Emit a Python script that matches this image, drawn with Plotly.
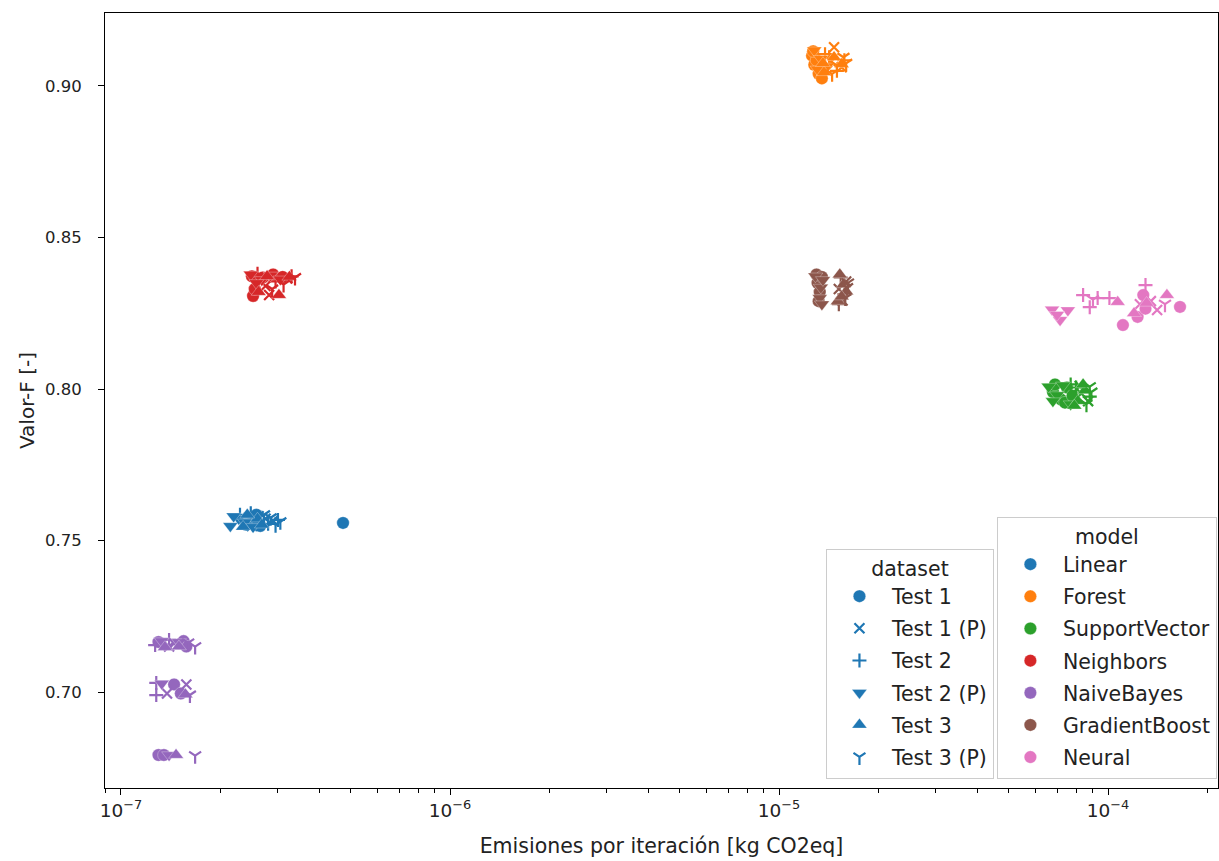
import plotly.graph_objects as go

# ---- data: emissions per iteration [kg CO2eq] and F-score, per model ----
DATASETS = ["Test 1", "Test 1 (P)", "Test 2", "Test 2 (P)", "Test 3", "Test 3 (P)"]
MODELS = ["Linear", "Forest", "SupportVector", "Neighbors", "NaiveBayes", "GradientBoost", "Neural"]
MODEL_COLORS = ["#1f77b4", "#ff7f0e", "#2ca02c", "#d62728", "#9467bd", "#8c564b", "#e377c2"]

LINEAR_SET = ["Test 1"] * 6 + ["Test 1 (P)"] * 4 + ["Test 2"] * 4 + ["Test 2 (P)"] * 5 + ["Test 3"] * 4 + ["Test 3 (P)"] * 4
LINEAR_X = [2.45e-7, 2.55e-7, 2.65e-7, 2.40e-7, 2.58e-7, 4.73e-7,
            2.75e-7, 2.90e-7, 2.62e-7, 2.50e-7,
            2.30e-7, 3.00e-7, 2.80e-7, 2.48e-7,
            2.15e-7, 2.28e-7, 2.38e-7, 2.52e-7, 2.20e-7,
            2.35e-7, 2.60e-7, 2.68e-7, 2.42e-7,
            2.85e-7, 3.05e-7, 2.72e-7, 2.95e-7]
LINEAR_Y = [0.7575, 0.7560, 0.7548, 0.7552, 0.7585, 0.7558,
            0.7572, 0.7565, 0.7580, 0.7548,
            0.7585, 0.7568, 0.7555, 0.7590,
            0.7548, 0.7572, 0.7560, 0.7545, 0.7580,
            0.7545, 0.7572, 0.7552, 0.7585,
            0.7575, 0.7562, 0.7585, 0.7552]

FOREST_SET = ["Test 1"] * 6 + ["Test 1 (P)"] * 4 + ["Test 2"] * 4 + ["Test 2 (P)"] * 4 + ["Test 3"] * 4 + ["Test 3 (P)"] * 4
FOREST_X = [1.26e-5, 1.28e-5, 1.32e-5, 1.30e-5, 1.35e-5, 1.27e-5,
            1.47e-5, 1.44e-5, 1.55e-5, 1.40e-5,
            1.38e-5, 1.58e-5, 1.50e-5, 1.42e-5,
            1.28e-5, 1.34e-5, 1.40e-5, 1.31e-5,
            1.47e-5, 1.37e-5, 1.55e-5, 1.36e-5,
            1.60e-5, 1.50e-5, 1.45e-5, 1.57e-5]
FOREST_Y = [0.9100, 0.9070, 0.9040, 0.9085, 0.9025, 0.9115,
            0.9128, 0.9080, 0.9062, 0.9050,
            0.9105, 0.9085, 0.9050, 0.9095,
            0.9118, 0.9090, 0.9065, 0.9055,
            0.9095, 0.9045, 0.9072, 0.9075,
            0.9075, 0.9068, 0.9040, 0.9095]

SVC_SET = ["Test 1"] * 6 + ["Test 1 (P)"] * 3 + ["Test 2"] * 3 + ["Test 2 (P)"] * 5 + ["Test 3"] * 4 + ["Test 3 (P)"] * 3
SVC_X = [6.8e-5, 7.2e-5, 7.5e-5, 7.4e-5, 6.9e-5, 7.8e-5,
         8.3e-5, 8.7e-5, 8.2e-5,
         8.0e-5, 8.8e-5, 7.7e-5,
         6.6e-5, 7.0e-5, 7.7e-5, 6.8e-5, 7.3e-5,
         8.1e-5, 8.5e-5, 7.9e-5, 8.4e-5,
         8.9e-5, 8.6e-5, 8.8e-5]
SVC_Y = [0.7990, 0.7965, 0.8005, 0.7955, 0.8015, 0.7978,
         0.7985, 0.7960, 0.8010,
         0.8005, 0.7975, 0.8015,
         0.8008, 0.7980, 0.7950, 0.7960, 0.8012,
         0.7960, 0.7995, 0.7945, 0.8015,
         0.7990, 0.7950, 0.8008]

NEIGHBORS_SET = ["Test 1"] * 6 + ["Test 1 (P)"] * 3 + ["Test 2"] * 3 + ["Test 2 (P)"] * 5 + ["Test 3"] * 4 + ["Test 3 (P)"] * 3
NEIGHBORS_X = [2.50e-7, 2.90e-7, 2.52e-7, 3.10e-7, 2.70e-7, 2.55e-7,
               2.82e-7, 2.75e-7, 3.20e-7,
               2.60e-7, 3.30e-7, 2.95e-7,
               2.48e-7, 2.68e-7, 2.58e-7, 2.85e-7, 3.05e-7,
               2.62e-7, 3.02e-7, 3.25e-7, 2.78e-7,
               3.38e-7, 3.12e-7, 2.88e-7]
NEIGHBORS_Y = [0.8372, 0.8378, 0.8307, 0.8370, 0.8368, 0.8330,
               0.8310, 0.8340, 0.8365,
               0.8380, 0.8372, 0.8355,
               0.8378, 0.8360, 0.8350, 0.8375, 0.8362,
               0.8320, 0.8310, 0.8370, 0.8372,
               0.8368, 0.8345, 0.8330]

BAYES_SET = ["Test 1"] * 7 + ["Test 1 (P)"] * 4 + ["Test 2"] * 4 + ["Test 2 (P)"] * 4 + ["Test 3"] * 4 + ["Test 3 (P)"] * 4
BAYES_X = [1.30e-7, 1.55e-7, 1.58e-7, 1.45e-7, 1.52e-7, 1.30e-7, 1.35e-7,
           1.45e-7, 1.58e-7, 1.40e-7, 1.38e-7,
           1.27e-7, 1.28e-7, 1.28e-7, 1.40e-7,
           1.33e-7, 1.33e-7, 1.40e-7, 1.50e-7,
           1.50e-7, 1.57e-7, 1.47e-7, 1.36e-7,
           1.68e-7, 1.62e-7, 1.68e-7, 1.60e-7]
BAYES_Y = [0.7165, 0.7168, 0.7150, 0.7025, 0.6995, 0.6792, 0.6792,
           0.7160, 0.7025, 0.7150, 0.6995,
           0.7155, 0.7030, 0.6990, 0.7172,
           0.7168, 0.7028, 0.6792, 0.7165,
           0.7150, 0.6992, 0.6792, 0.7148,
           0.7150, 0.6990, 0.6790, 0.7162]

GBOOST_SET = ["Test 1"] * 5 + ["Test 1 (P)"] * 3 + ["Test 2"] * 3 + ["Test 2 (P)"] * 5 + ["Test 3"] * 5 + ["Test 3 (P)"] * 3
GBOOST_X = [1.30e-5, 1.31e-5, 1.33e-5, 1.32e-5, 1.35e-5,
            1.52e-5, 1.56e-5, 1.60e-5,
            1.54e-5, 1.58e-5, 1.52e-5,
            1.29e-5, 1.34e-5, 1.36e-5, 1.33e-5, 1.35e-5,
            1.53e-5, 1.57e-5, 1.51e-5, 1.60e-5, 1.55e-5,
            1.62e-5, 1.59e-5, 1.61e-5]
GBOOST_Y = [0.8378, 0.8350, 0.8320, 0.8290, 0.8370,
            0.8330, 0.8292, 0.8355,
            0.8368, 0.8312, 0.8280,
            0.8372, 0.8335, 0.8360, 0.8300, 0.8280,
            0.8378, 0.8345, 0.8290, 0.8322, 0.8305,
            0.8350, 0.8300, 0.8335]

NEURAL_SET = ["Test 1"] * 5 + ["Test 1 (P)"] * 3 + ["Test 2"] * 5 + ["Test 2 (P)"] * 4 + ["Test 3"] * 4 + ["Test 3 (P)"] * 2
NEURAL_X = [1.11e-4, 1.28e-4, 1.23e-4, 1.655e-4, 1.30e-4,
            1.41e-4, 1.35e-4, 1.25e-4,
            8.4e-5, 8.8e-5, 9.3e-5, 1.01e-4, 1.30e-4,
            6.76e-5, 7.55e-5, 7.15e-5, 7.0e-5,
            1.07e-4, 1.31e-4, 1.51e-4, 1.20e-4,
            1.49e-4, 9.0e-5]
NEURAL_Y = [0.8211, 0.8310, 0.8238, 0.8271, 0.8265,
            0.8261, 0.8290, 0.8280,
            0.8310, 0.8270, 0.8300, 0.8300, 0.8343,
            0.8262, 0.8260, 0.8228, 0.8245,
            0.8287, 0.8284, 0.8310, 0.8250,
            0.8280, 0.8295]

MODEL_DATA = [
    (LINEAR_X, LINEAR_Y, LINEAR_SET),
    (FOREST_X, FOREST_Y, FOREST_SET),
    (SVC_X, SVC_Y, SVC_SET),
    (NEIGHBORS_X, NEIGHBORS_Y, NEIGHBORS_SET),
    (BAYES_X, BAYES_Y, BAYES_SET),
    (GBOOST_X, GBOOST_Y, GBOOST_SET),
    (NEURAL_X, NEURAL_Y, NEURAL_SET),
]

X_TICKS = [1e-7, 1e-6, 1e-5, 1e-4]
X_TICK_TEXT = ["10<sup>\u22127</sup>", "10<sup>\u22126</sup>", "10<sup>\u22125</sup>", "10<sup>\u22124</sup>"]
Y_TICKS = [0.70, 0.75, 0.80, 0.85, 0.90]

# ---- styling ----
FONT = "DejaVu Sans"
TEXT = "#222222"
# symbol, is line-only, size
SYMBOLS = {
    "Test 1": ("circle", False, 12.5),
    "Test 1 (P)": ("x-thin-open", True, 10),
    "Test 2": ("cross-thin-open", True, 10),
    "Test 2 (P)": ("triangle-down", False, 13),
    "Test 3": ("triangle-up", False, 13),
    "Test 3 (P)": ("y-down-open", True, 10),
}


def marker_style(ds, color):
    sym, is_line, size = SYMBOLS[ds]
    if is_line:
        return dict(symbol=sym, size=size, color=color, line=dict(color=color, width=2.2))
    return dict(symbol=sym, size=size, color=color, line=dict(color="white", width=0.3))


fig = go.Figure()

for (xs, ys, sets), color in zip(MODEL_DATA, MODEL_COLORS):
    for ds in DATASETS:
        px = [x for x, s in zip(xs, sets) if s == ds]
        py = [y for y, s in zip(ys, sets) if s == ds]
        if not px:
            continue
        fig.add_trace(go.Scatter(
            x=px, y=py, mode="markers", marker=marker_style(ds, color),
            showlegend=False, hoverinfo="skip",
        ))

# legend entries: marker styles (dataset)
for ds in DATASETS:
    fig.add_trace(go.Scatter(
        x=[None], y=[None], mode="markers", name=ds,
        marker=marker_style(ds, MODEL_COLORS[0]),
        legend="legend", legendgroup="d_" + ds,
    ))

# legend entries: colours (model)
for m, c in zip(MODELS, MODEL_COLORS):
    fig.add_trace(go.Scatter(
        x=[None], y=[None], mode="markers", name=m,
        marker=dict(symbol="circle", size=12.5, color=c, line=dict(color="white", width=0.3)),
        legend="legend2", legendgroup="m_" + m,
    ))

legend_common = dict(
    bgcolor="rgba(255,255,255,0.8)",
    bordercolor="#cccccc",
    borderwidth=1,
    font=dict(family=FONT, size=20.5, color=TEXT),
    tracegroupgap=2.5,
    itemwidth=55,
    yanchor="bottom",
    xanchor="right",
    y=0.012,
)

fig.update_layout(
    width=1219,
    height=861,
    margin=dict(l=105, r=1, t=13, b=73),
    paper_bgcolor="white",
    plot_bgcolor="white",
    font=dict(family=FONT, size=16, color=TEXT),
    legend=dict(title=dict(text="dataset", side="top center", font=dict(family=FONT, size=20.5, color=TEXT)),
                x=0.7987, **legend_common),
    legend2=dict(title=dict(text="model", side="top center", font=dict(family=FONT, size=20.5, color=TEXT)),
                 x=0.999, **legend_common),
    xaxis=dict(
        type="log",
        range=[-7.0486, -3.6657],
        tickvals=X_TICKS,
        ticktext=X_TICK_TEXT,
        ticks="outside",
        ticklen=6,
        tickwidth=1.1,
        tickcolor="black",
        minor=dict(
            tickvals=[m * 10 ** e for e in range(-8, -3) for m in range(2, 10)],
            ticks="outside",
            ticklen=3.5,
            tickwidth=0.9,
            tickcolor="black",
        ),
        showgrid=False,
        zeroline=False,
        showline=True,
        linecolor="black",
        linewidth=1.1,
        mirror=True,
        tickfont=dict(family=FONT, size=18.5, color=TEXT),
        title=dict(text="Emisiones por iteración [kg CO2eq]", standoff=18,
                   font=dict(family=FONT, size=20.5, color=TEXT)),
    ),
    yaxis=dict(
        range=[0.66832, 0.92409],
        tickvals=Y_TICKS,
        tickformat=".2f",
        ticks="outside",
        ticklen=6,
        tickwidth=1.1,
        tickcolor="black",
        ticklabelstandoff=13,
        showgrid=False,
        zeroline=False,
        showline=True,
        linecolor="black",
        linewidth=1.1,
        mirror=True,
        tickfont=dict(family=FONT, size=16.5, color=TEXT),
        title=dict(text="Valor-F [-]", standoff=4,
                   font=dict(family=FONT, size=20, color=TEXT)),
    ),
)

fig.write_html("out.html")
